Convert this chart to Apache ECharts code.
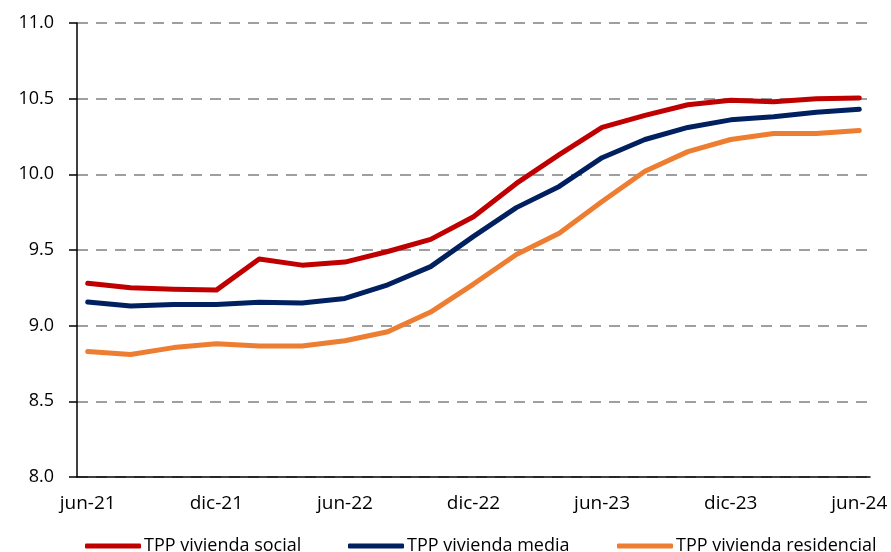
<!DOCTYPE html>
<html>
<head>
<meta charset="utf-8">
<script src="https://cdn.jsdelivr.net/npm/echarts@6/dist/echarts.min.js"></script>
<style>
  html, body { margin: 0; padding: 0; background: #fff; }
  #chart { width: 891px; height: 552px; }
</style>
</head>
<body>
<div id="chart"></div>
<script>
// monthly categories on the x axis
var months = [
  "jun-21", "jul-21", "ago-21", "sep-21", "oct-21", "nov-21", "dic-21",
  "ene-22", "feb-22", "mar-22", "abr-22", "may-22", "jun-22", "jul-22",
  "ago-22", "sep-22", "oct-22", "nov-22", "dic-22", "ene-23", "feb-23",
  "mar-23", "abr-23", "may-23", "jun-23", "jul-23", "ago-23", "sep-23",
  "oct-23", "nov-23", "dic-23", "ene-24", "feb-24", "mar-24", "abr-24",
  "may-24", "jun-24"
];

// observations are bimonthly
var pointMonths = [
  "jun-21", "ago-21", "oct-21", "dic-21", "feb-22", "abr-22", "jun-22",
  "ago-22", "oct-22", "dic-22", "feb-23", "abr-23", "jun-23", "ago-23",
  "oct-23", "dic-23", "feb-24", "abr-24", "jun-24"
];

var social = [9.28, 9.25, 9.24, 9.235, 9.44, 9.40, 9.42, 9.49, 9.57, 9.72,
  9.94, 10.13, 10.31, 10.39, 10.46, 10.49, 10.48, 10.50, 10.505];
var media = [9.156, 9.13, 9.14, 9.14, 9.155, 9.15, 9.18, 9.27, 9.39, 9.59,
  9.78, 9.92, 10.11, 10.23, 10.31, 10.36, 10.38, 10.41, 10.43];
var residencial = [8.83, 8.81, 8.855, 8.88, 8.865, 8.865, 8.90, 8.96, 9.09, 9.275,
  9.47, 9.61, 9.82, 10.02, 10.15, 10.23, 10.27, 10.27, 10.29];

var seriesNames = ["TPP vivienda social", "TPP vivienda media", "TPP vivienda residencial"];
var seriesColors = ["#C00000", "#002060", "#ED7D31"];
var seriesValues = [social, media, residencial];
var legendLeft = [80, 343, 612];

var FONT = "Open Sans";

function pairs(values) {
  return values.map(function (v, i) { return [pointMonths[i], v]; });
}

var chart = echarts.init(document.getElementById("chart"));

chart.setOption({
  animation: false,
  textStyle: { fontFamily: FONT },
  grid: { left: 77, right: 21, top: 23, bottom: 75 },
  // one legend per item so each sits where the original puts it
  legend: seriesNames.map(function (name, k) {
    return {
      top: 532,
      left: legendLeft[k],
      itemWidth: 56,
      itemHeight: 5,
      icon: "roundRect",
      textStyle: { fontFamily: FONT, fontSize: 18, color: "#000", padding: [0, 0, 0, -2] },
      data: [name]
    };
  }),
  xAxis: {
    type: "category",
    data: months,
    boundaryGap: true,
    axisLine: { lineStyle: { color: "#000", width: 1.5 } },
    axisTick: { interval: 5, length: 7, lineStyle: { color: "#000", width: 1.5 } },
    axisLabel: { interval: 5, margin: 17, color: "#000", fontSize: 19, fontFamily: FONT },
    splitLine: { show: false }
  },
  yAxis: {
    type: "value",
    min: 8,
    max: 11,
    interval: 0.5,
    axisLine: { show: true, lineStyle: { color: "#000", width: 1.5 } },
    axisTick: { show: true, length: 8, lineStyle: { color: "#000", width: 1.5 } },
    axisLabel: {
      margin: 23,
      color: "#000",
      fontSize: 18,
      fontFamily: FONT,
      formatter: function (v) { return v.toFixed(1); }
    },
    splitLine: {
      lineStyle: { color: "#808080", width: 1.5, type: [11, 8] }
    }
  },
  series: seriesNames.map(function (name, k) {
    return {
      name: name,
      type: "line",
      data: pairs(seriesValues[k]),
      symbol: "none",
      color: seriesColors[k],
      lineStyle: { color: seriesColors[k], width: 5, cap: "round", join: "round" }
    };
  })
});
</script>
</body>
</html>
